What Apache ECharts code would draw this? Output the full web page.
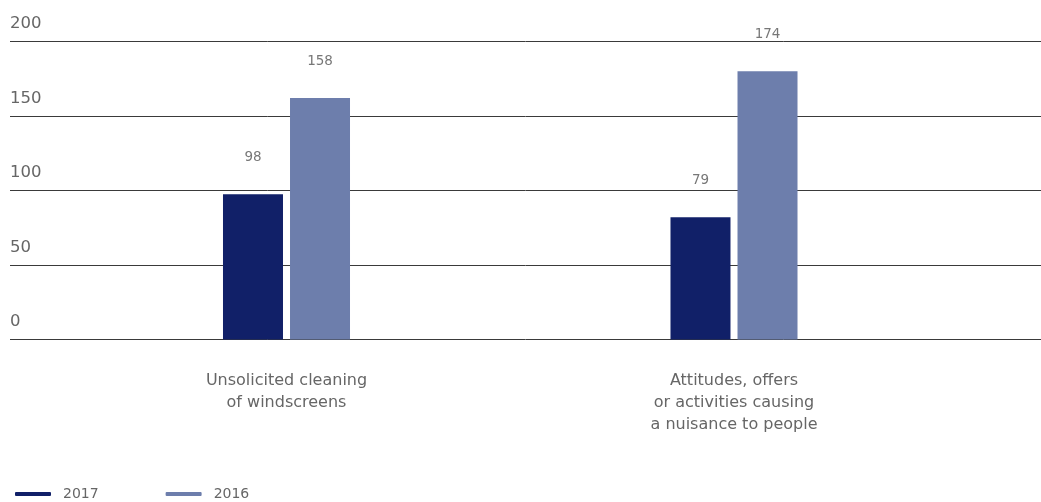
<!DOCTYPE html>
<html>
<head>
<meta charset="utf-8">
<style>html,body{margin:0;padding:0;background:#fff}#c{width:1041px;height:502px}</style>
<script src="https://cdn.jsdelivr.net/npm/echarts@6/dist/echarts.min.js"></script>
</head>
<body>
<div id="c"></div>
<script>
const categories = ['Unsolicited cleaning\nof windscreens', 'Attitudes, offers\nor activities causing\na nuisance to people'];
const seriesNames = ['2017', '2016'];
const values2017 = [97.5, 82];
const values2016 = [162, 180];
const labels2017 = ['98', '79'];
const labels2016 = ['158', '174'];
const yTicks = [0, 50, 100, 150, 200];

const FONT = '"DejaVu Sans", sans-serif';
const TOP = 41.5, BOTTOM = 502 - 339.5;
const chart = echarts.init(document.getElementById('c'));
chart.setOption({
  animation: false,
  backgroundColor: '#fff',
  textStyle: { fontFamily: FONT },
  grid: [
    { left: 10, right: 0, top: TOP, bottom: BOTTOM, containLabel: false },
    { left: 62.75, right: 83.25, top: TOP, bottom: BOTTOM, containLabel: false }
  ],
  legend: {
    left: 15, top: 487, padding: 0,
    icon: 'roundRect',
    itemWidth: 36, itemHeight: 4,
    itemGap: 67,
    textStyle: { color: '#666', fontSize: 14, fontFamily: FONT, padding: [0, 0, 0, 7] },
    data: seriesNames
  },
  xAxis: [
    { gridIndex: 0, type: 'category', data: categories, show: false },
    { gridIndex: 1, type: 'category', data: categories,
      axisLine: { show: false }, axisTick: { show: false },
      axisLabel: { color: '#666', fontSize: 16, lineHeight: 22, margin: 30, fontFamily: FONT, verticalAlign: 'top' } }
  ],
  yAxis: [
    { gridIndex: 0, type: 'value', min: yTicks[0], max: yTicks[yTicks.length - 1], interval: 50,
      axisLine: { show: false }, axisTick: { show: false },
      splitLine: { show: true, lineStyle: { color: '#3a3a3a', width: 1 } },
      axisLabel: { inside: true, margin: 0, align: 'left', verticalAlign: 'bottom', padding: [0, 0, 9, 0],
        color: '#666', fontSize: 16.5, fontFamily: FONT } },
    { gridIndex: 1, type: 'value', min: yTicks[0], max: yTicks[yTicks.length - 1], interval: 50, show: false,
      splitLine: { show: false } }
  ],
  series: [
    { name: seriesNames[0], type: 'bar', xAxisIndex: 1, yAxisIndex: 1, data: values2017,
      barWidth: 60, barGap: '11.7%', itemStyle: { color: '#112068' },
      label: { show: true, position: 'top', distance: 30, color: '#777', fontSize: 13.5, fontFamily: FONT,
        formatter: p => labels2017[p.dataIndex] } },
    { name: seriesNames[1], type: 'bar', xAxisIndex: 1, yAxisIndex: 1, data: values2016,
      barWidth: 60, barGap: '11.7%', itemStyle: { color: '#6d7eac' },
      label: { show: true, position: 'top', distance: 30, color: '#777', fontSize: 13.5, fontFamily: FONT,
        formatter: p => labels2016[p.dataIndex] } }
  ]
});
</script>
</body>
</html>
